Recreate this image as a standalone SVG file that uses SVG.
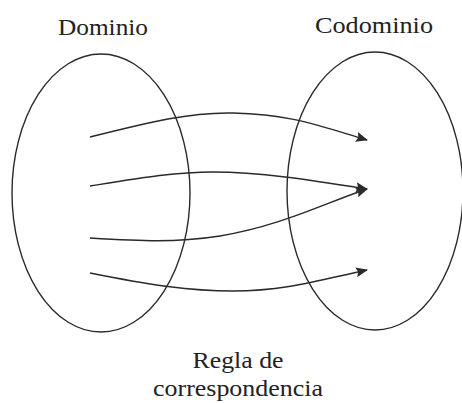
<svg xmlns="http://www.w3.org/2000/svg" width="462" height="403" viewBox="0 0 462 403">
<style>
.set{fill:none;stroke:#2a2a2a;stroke-width:1.4}
.arr{fill:none;stroke:#2a2a2a;stroke-width:1.4}
.lbl{font-family:"Liberation Serif","Times New Roman",serif;font-size:23px;fill:#222;text-anchor:middle}
</style>
<defs>
<marker id="ah" viewBox="0 0 12 10" refX="11" refY="5" markerWidth="12" markerHeight="10" markerUnits="userSpaceOnUse" orient="auto">
<path d="M0,0 L12,5 L0,10 L2,5 Z" fill="#2a2a2a"/>
</marker>
</defs>
<rect width="462" height="403" fill="#fff"/>
<g id="dominio">
<ellipse class="set" cx="101" cy="193" rx="89" ry="139"/>
<text class="lbl" x="103" y="35" textLength="90" lengthAdjust="spacingAndGlyphs">Dominio</text>
</g>
<g id="codominio">
<ellipse class="set" cx="375" cy="191" rx="88" ry="139"/>
<text class="lbl" x="374" y="33" textLength="118" lengthAdjust="spacingAndGlyphs">Codominio</text>
</g>
<g id="regla">
<text class="lbl" x="238" y="368" textLength="91" lengthAdjust="spacingAndGlyphs">Regla de</text>
<text class="lbl" x="238" y="396" textLength="170" lengthAdjust="spacingAndGlyphs">correspondencia</text>
</g>
<g id="connectors">
<path class="arr" marker-end="url(#ah)" d="M90,137 C150,122 190,112 233,113 C290,114 320,126 367,140"/>
<path class="arr" marker-end="url(#ah)" d="M90,186 C140,178 175,172 213,172 C260,172 310,180 367,189"/>
<path class="arr" marker-end="url(#ah)" d="M90,238 C140,241 175,243 220,236 C280,226 320,205 367,189"/>
<path class="arr" marker-end="url(#ah)" d="M90,273 C150,285 190,291 233,291 C285,291 320,280 367,270"/>
</g>
</svg>
